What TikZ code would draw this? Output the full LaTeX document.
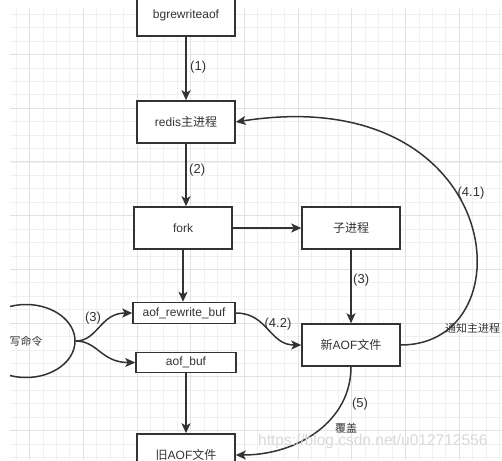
\documentclass[tikz,border=0pt]{standalone}
\usepackage{fontspec}
\setmainfont{Liberation Sans}
\newfontfamily\cjk{Noto Sans CJK SC}
\usetikzlibrary{arrows.meta,positioning,shapes.geometric}
\definecolor{ink}{HTML}{333333}
\definecolor{gridminor}{HTML}{F0F0F0}
\definecolor{gridmajor}{HTML}{E2E2E2}
\definecolor{wmark}{HTML}{D9D9D9}

\begin{document}
\begin{tikzpicture}[x=1pt,y=-1pt,>={Stealth[length=10pt,width=9pt,inset=2.5pt]},
    box/.style={draw=ink,line width=1.5pt,fill=white,minimum width=98pt,minimum height=42pt,inner sep=0pt,text=ink,font=\fontsize{12}{14}\selectfont},
    buf/.style={box,minimum height=21pt},
    lbl/.style={text=ink,inner sep=0pt,font=\fontsize{13}{15}\selectfont},
    link/.style={->,draw=ink,line width=1.5pt}]
  \useasboundingbox (0,0) rectangle (502,460);
  \clip (0,0) rectangle (502,460);
  \fill[white] (0,0) rectangle (502,460);
  % grid
  \foreach \i in {0,...,36} \draw[gridminor,line width=0.8pt] (16.1+\i*13.43,8) -- ++(0,452);
  \foreach \j in {0,...,33} \draw[gridminor,line width=0.8pt] (10,14.2+\j*13.43) -- ++(492,0);
  \foreach \i in {1,5,...,33} \draw[gridmajor,line width=0.9pt] (16.1+\i*13.43,8) -- ++(0,452);
  \foreach \j in {3,7,...,31} \draw[gridmajor,line width=0.9pt] (10,14.2+\j*13.43) -- ++(492,0);

  % boxes
  \node[box] (bgr) at (186,15) {bgrewriteaof};
  \node[box] (redis) at (186,122) {redis{\cjk 主进程}};
  \node[box] (fork) at (183,228) {fork};
  \node[box] (child) at (351,228) {\cjk 子进程};
  \node[buf,minimum width=102pt] (rwbuf) at (184,313) {aof\_rewrite\_buf};
  \node[buf,minimum width=100pt,minimum height=20pt] (aofbuf) at (186,362.5) {aof\_buf};
  \node[box] (newaof) at (351,345) {{\cjk 新}AOF{\cjk 文件}};
  \node[box] (oldaof) at (186,455) {{\cjk 旧}AOF{\cjk 文件}};
  \begin{scope}
    \clip (10,0) rectangle (502,460);
    \node[ellipse,draw=ink,line width=1.5pt,minimum width=98pt,minimum height=73pt,inner sep=0pt,text=ink,font=\fontsize{11}{13}\selectfont\cjk] (cmd) at (26,341) {写命令};
  \end{scope}

  % connectors
  \draw[link] (bgr) -- (redis);
  \draw[link] (redis.south) -- (redis.south |- fork.north);
  \draw[link] (fork) -- (child);
  \draw[link] (fork.south) -- (fork.south |- rwbuf.north);
  \draw[link] (child) -- (newaof);
  \draw[link] (aofbuf) -- (oldaof);
  \draw[link] (cmd.east) .. controls +(22,0) and +(-32,0) .. (rwbuf.west);
  \draw[link] (cmd.east) .. controls +(22,0) and +(-34,0) .. (aofbuf.west);
  \draw[link] (rwbuf.east) .. controls +(32,0) and +(-32,0) .. (newaof.west);
  \draw[link] (newaof.east) .. controls +(130,0) and +(270,-42) .. (redis.east);
  \draw[link] (newaof.south) .. controls +(0,54) and +(63,0) .. (oldaof.east);

  % labels
  \node[lbl,anchor=west] (l1) at (190,67) {(1)};
  \node[lbl,anchor=west] (l2) at (189,170) {(2)};
  \node[lbl,anchor=west] (l3a) at (353,280) {(3)};
  \node[lbl] (l3b) at (93,318) {(3)};
  \node[lbl] (l42) at (278,324) {(4.2)};
  \node[lbl] (l41) at (471,193) {(4.1)};
  \node[lbl,anchor=west,font=\fontsize{11}{13}\selectfont\cjk] (notify) at (445,328) {通知主进程};
  \node[lbl] (l5) at (360,404) {(5)};
  \node[lbl,font=\fontsize{11}{13}\selectfont\cjk] (cover) at (346,428) {覆盖};
  \node[text=wmark,inner sep=0pt,anchor=west,font=\fontsize{15.5}{17}\selectfont] (mark) at (258,441) {https://blog.csdn.net/u012712556};
\end{tikzpicture}
\end{document}
